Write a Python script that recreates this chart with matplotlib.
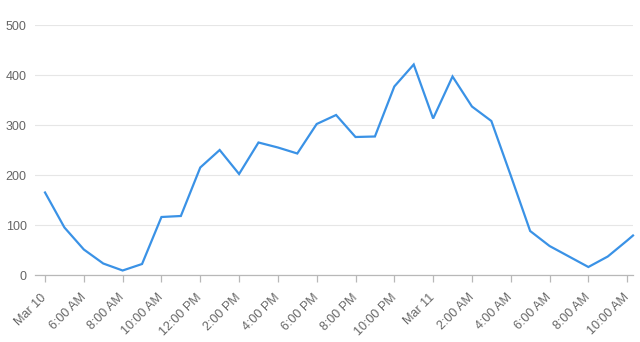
import matplotlib
matplotlib.use("Agg")
import matplotlib.pyplot as plt
import matplotlib.transforms as mtransforms
import pandas as pd

# ---- data ----
times = list(pd.date_range("2024-03-10 04:00", "2024-03-11 10:00", freq="h")) + [pd.Timestamp("2024-03-11 10:18")]
values = [165, 95, 51, 23, 9, 22, 116, 118, 215, 250, 202, 265, 255, 243,
          302, 320, 276, 277, 377, 421, 313, 397, 337, 308, 199, 88, 58, 37,
          16, 37, 69, 79]
tick_times = list(pd.date_range("2024-03-10 04:00", "2024-03-11 10:00", freq="2h"))
tick_labels = ["Mar 10", "6:00 AM", "8:00 AM", "10:00 AM", "12:00 PM", "2:00 PM",
               "4:00 PM", "6:00 PM", "8:00 PM", "10:00 PM", "Mar 11", "2:00 AM",
               "4:00 AM", "6:00 AM", "8:00 AM", "10:00 AM"]
y_ticks = [0, 100, 200, 300, 400, 500]

plt.rcParams['font.family'] = ['Liberation Sans', 'DejaVu Sans']
fig = plt.figure(figsize=(6.4, 3.42), dpi=100)
W, H = 640, 342
left, right, top, bottom = 35, 633, 25, 275
ax = fig.add_axes([left / W, 1 - bottom / H, (right - left) / W, (bottom - top) / H])

ax.plot(times, values, color="#3a92e6", linewidth=1.6, solid_joinstyle="miter", clip_on=False)

ax.set_ylim(0, 500)
ax.set_xlim(pd.Timestamp("2024-03-10 03:29"), pd.Timestamp("2024-03-11 10:18"))
ax.set_yticks(y_ticks)
ax.set_yticklabels([str(v) for v in y_ticks])
ax.set_xticks(tick_times)
ax.set_xticklabels(tick_labels, rotation=45, ha="right", va="center", rotation_mode="anchor")
offset = mtransforms.ScaledTranslation(3 / 100, 0, fig.dpi_scale_trans)
for lab in ax.get_xticklabels():
    lab.set_transform(lab.get_transform() + offset)

ax.grid(axis="y", color="#e6e6e6", linewidth=0.8)
ax.set_axisbelow(True)
for s in ["top", "right", "left"]:
    ax.spines[s].set_visible(False)
ax.spines["bottom"].set_color("#b8b8b8")
ax.spines["bottom"].set_linewidth(0.9)
ax.tick_params(axis="y", length=0, pad=6, labelsize=9, labelcolor="#666666")
ax.tick_params(axis="x", length=5, width=0.9, color="#b8b8b8", pad=10, labelsize=9, labelcolor="#666666")

fig.savefig("out.png", dpi=100)
